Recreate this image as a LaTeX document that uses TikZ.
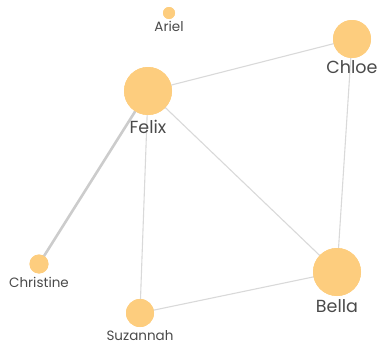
\documentclass[tikz,border=0pt]{standalone}
\usepackage{fontspec}
\setmainfont{Poppins}
\definecolor{nodefill}{HTML}{FDCD7E}
\definecolor{edgegray}{HTML}{D9D9D9}
\definecolor{labelgray}{HTML}{4A4A4A}
\tikzset{
  person/.style={circle, fill=nodefill, draw=none, inner sep=0pt, minimum size=#1},
  link/.style={draw=edgegray, line width=1.1pt},
  heavylink/.style={draw=edgegray!85!gray, line width=2.6pt},
  biglabel/.style={text=labelgray, font=\fontsize{17.5}{17.5}\selectfont, inner sep=0pt},
  smalllabel/.style={text=labelgray, font=\fontsize{13.5}{13.5}\selectfont, inner sep=0pt},
}
\begin{document}
\begin{tikzpicture}[x=1pt, y=-1pt]
  \useasboundingbox (0,0) rectangle (378,348);
  % people
  \node[person=12pt] (ariel) at (169,13) {};
  \node[person=48pt] (felix) at (148,91) {};
  \node[person=38pt] (chloe) at (352,39) {};
  \node[person=19pt] (christine) at (39,264) {};
  \node[person=28pt] (suzannah) at (140,313) {};
  \node[person=48pt] (bella) at (337,272) {};
  % connections
  \path[link] (felix.center) -- (chloe.center);
  \path[heavylink] (felix.center) -- (christine.center);
  \path[link] (felix.center) -- (suzannah.center);
  \path[link] (felix.center) -- (bella.center);
  \path[link] (chloe.center) -- (bella.center);
  \path[link] (suzannah.center) -- (bella.center);
  % circles again, on top of the lines
  \node[person=12pt] at (ariel) {};
  \node[person=48pt] at (felix) {};
  \node[person=38pt] at (chloe) {};
  \node[person=19pt] at (christine) {};
  \node[person=28pt] at (suzannah) {};
  \node[person=48pt] at (bella) {};
  % names
  \node[smalllabel] (lariel) at (169,26) {Ariel};
  \node[biglabel] (lfelix) at (148,127) {Felix};
  \node[biglabel] (lchloe) at (352,67) {Chloe};
  \node[smalllabel] (lchristine) at (39,282) {Christine};
  \node[smalllabel] (lsuzannah) at (140,336) {Suzannah};
  \node[biglabel] (lbella) at (337,306) {Bella};
\end{tikzpicture}
\end{document}
